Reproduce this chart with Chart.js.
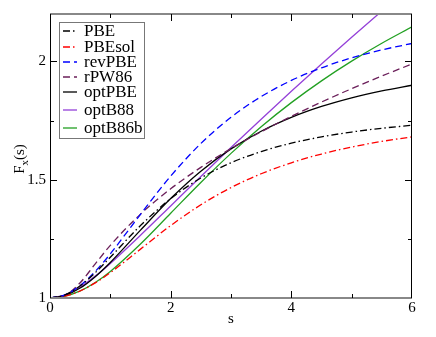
<!DOCTYPE html>
<html lang="en">
<head>
  <meta charset="utf-8">
  <script src="https://cdn.jsdelivr.net/npm/chart.js"></script>
  <style>
    body { margin: 0; background: #fff; }
    canvas { display: block; }
  </style>
</head>
<body>
  <canvas id="fxChart" width="436" height="337"></canvas>

  <script>
    // reduced gradient s
    var sValues = [0, 0.25, 0.5, 0.75, 1, 1.5, 2, 2.5, 3, 3.5, 4, 4.5, 5, 5.5, 6];

    // enhancement factor Fx(s) for each functional
    var pbe     = [1, 1.0135, 1.0514, 1.1070, 1.1724, 1.3060, 1.4197, 1.5069, 1.5714, 1.6189, 1.6542, 1.6809, 1.7013, 1.7172, 1.7298];
    var pbesol  = [1, 1.0076, 1.0297, 1.0639, 1.1070, 1.2065, 1.3059, 1.3937, 1.4665, 1.5249, 1.5714, 1.6084, 1.6378, 1.6616, 1.6808];
    var revpbe  = [1, 1.0136, 1.0526, 1.1123, 1.1866, 1.3536, 1.5149, 1.6527, 1.7637, 1.8510, 1.9192, 1.9726, 2.0148, 2.0484, 2.0755];
    var rpw86   = [1, 1.0113, 1.0644, 1.1443, 1.2225, 1.3545, 1.4614, 1.5519, 1.6312, 1.7025, 1.7675, 1.8279, 1.8845, 1.9380, 1.9888];
    var optpbe  = [1, 1.0109, 1.0421, 1.0902, 1.1503, 1.2868, 1.4204, 1.5360, 1.6300, 1.7046, 1.7632, 1.8094, 1.8460, 1.8753, 1.8989];
    var optb88  = [1, 1.0129, 1.0462, 1.0924, 1.1462, 1.2651, 1.3891, 1.5132, 1.6356, 1.7556, 1.8732, 1.9885, 2.1015, 2.2125, 2.3217];
    var optb86b = [1, 1.0077, 1.0301, 1.0658, 1.1124, 1.2282, 1.3581, 1.4882, 1.6110, 1.7236, 1.8255, 1.9175, 2.0007, 2.0763, 2.1456];

    var seriesNames = ['PBE', 'PBEsol', 'revPBE', 'rPW86', 'optPBE', 'optB88', 'optB86b'];
    var xTicks = [0, 2, 4, 6];
    var yTicks = [1, 1.5, 2];

    var FONT = '"Liberation Serif", "DejaVu Serif", serif';
    // vertical centre of each legend row (px)
    var legendRows = [31, 47, 62, 77, 92, 110, 128];

    function toPoints(arr) {
      return arr.map(function (v, i) { return { x: sValues[i], y: v }; });
    }

    function makeSet(label, arr, color, dash) {
      return {
        label: label,
        data: toPoints(arr),
        borderColor: color,
        borderWidth: 1.3,
        borderDash: dash,
        pointRadius: 0,
        fill: false,
        cubicInterpolationMode: 'monotone'
      };
    }

    var datasets = [
      makeSet(seriesNames[0], pbe, '#000000', [7, 3, 1.5, 3]),
      makeSet(seriesNames[1], pbesol, '#ff0000', [7, 3, 1.5, 3]),
      makeSet(seriesNames[2], revpbe, '#0000ff', [7, 4]),
      makeSet(seriesNames[3], rpw86, '#6b1f5a', [7, 4]),
      makeSet(seriesNames[4], optpbe, '#000000', []),
      makeSet(seriesNames[5], optb88, '#9440d8', []),
      makeSet(seriesNames[6], optb86b, '#22a022', [])
    ];

    // frame with inward ticks, axis titles and legend box
    var decorations = {
      id: 'decorations',
      afterDraw: function (chart) {
        var ctx = chart.ctx;
        var a = chart.chartArea;
        var x = chart.scales.x, y = chart.scales.y;
        ctx.save();

        // frame
        ctx.strokeStyle = '#888';
        ctx.lineWidth = 2;
        ctx.beginPath();
        ctx.moveTo(a.left, a.top); ctx.lineTo(a.right, a.top);
        ctx.moveTo(a.left, a.bottom); ctx.lineTo(a.right, a.bottom);
        ctx.stroke();
        ctx.strokeStyle = '#000';
        ctx.lineWidth = 1;
        ctx.beginPath();
        ctx.moveTo(Math.round(a.left) + 0.5, a.top); ctx.lineTo(Math.round(a.left) + 0.5, a.bottom);
        ctx.moveTo(Math.round(a.right) - 0.5, a.top); ctx.lineTo(Math.round(a.right) - 0.5, a.bottom);
        ctx.stroke();

        // ticks pointing in, on all four sides
        ctx.beginPath();
        for (var s = 1; s < 6; s++) {
          var px = Math.round(x.getPixelForValue(s)) + 0.5;
          var len = (s % 2 === 0) ? 7 : 4;
          ctx.moveTo(px, a.bottom); ctx.lineTo(px, a.bottom - len);
          ctx.moveTo(px, a.top); ctx.lineTo(px, a.top + len);
        }
        for (var k = 1; k <= 4; k++) {
          var v = 1 + k * 0.25;
          var py = Math.round(y.getPixelForValue(v)) + 0.5;
          var ylen = (k % 2 === 0) ? 7 : 4;
          ctx.moveTo(a.left, py); ctx.lineTo(a.left + ylen, py);
          ctx.moveTo(a.right, py); ctx.lineTo(a.right - ylen, py);
        }
        ctx.stroke();

        // axis titles
        ctx.fillStyle = '#000';
        ctx.font = '15px ' + FONT;
        ctx.textAlign = 'center';
        ctx.textBaseline = 'middle';
        ctx.fillText('s', (a.left + a.right) / 2, 319);

        ctx.save();
        ctx.translate(19, 159);
        ctx.rotate(-Math.PI / 2);
        ctx.textAlign = 'left';
        ctx.textBaseline = 'alphabetic';
        var wF = ctx.measureText('F').width;
        ctx.font = '11px ' + FONT;
        var wx = ctx.measureText('x').width;
        ctx.font = '15px ' + FONT;
        var wS = ctx.measureText('(s)').width;
        var start = -(wF + wx + wS) / 2;
        ctx.fillText('F', start, 5);
        ctx.font = '11px ' + FONT;
        ctx.fillText('x', start + wF, 9);
        ctx.font = '15px ' + FONT;
        ctx.fillText('(s)', start + wF + wx, 5);
        ctx.restore();

        // legend
        var bx = 59.5, by = 22.5, bw = 85, bh = 116;
        ctx.fillStyle = '#fff';
        ctx.fillRect(bx, by, bw, bh);
        ctx.strokeStyle = '#777';
        ctx.lineWidth = 1;
        ctx.setLineDash([]);
        ctx.strokeRect(bx, by, bw, bh);
        ctx.font = '17px ' + FONT;
        ctx.textAlign = 'left';
        ctx.textBaseline = 'middle';
        chart.data.datasets.forEach(function (ds, i) {
          var ly = legendRows[i];
          ctx.strokeStyle = ds.borderColor;
          ctx.lineWidth = ds.borderWidth;
          ctx.setLineDash(ds.borderDash);
          ctx.beginPath();
          ctx.moveTo(63, ly); ctx.lineTo(77, ly);
          ctx.stroke();
          ctx.setLineDash([]);
          ctx.fillStyle = '#000';
          ctx.fillText(ds.label, 84, ly + 1);
        });
        ctx.restore();
      }
    };

    var ctx = document.getElementById('fxChart').getContext('2d');
    var fxChart = new Chart(ctx, {
      type: 'line',
      data: { datasets: datasets },
      options: {
        responsive: false,
        animation: false,
        layout: { padding: { top: 14, right: 24, left: 0, bottom: 0 } },
        plugins: {
          legend: { display: false },
          tooltip: { enabled: false }
        },
        scales: {
          x: {
            type: 'linear',
            min: 0,
            max: 6,
            afterBuildTicks: function (scale) {
              scale.ticks = xTicks.map(function (v) { return { value: v }; });
            },
            afterFit: function (scale) { scale.height = 39; },
            grid: { display: false, drawTicks: false },
            border: { display: false },
            ticks: {
              color: '#000',
              padding: 1,
              maxRotation: 0,
              font: { family: FONT, size: 15 },
              callback: function (v) { return String(v); }
            }
          },
          y: {
            min: 1,
            max: 2.2,
            afterBuildTicks: function (scale) {
              scale.ticks = yTicks.map(function (v) { return { value: v }; });
            },
            afterFit: function (scale) { scale.width = 50; },
            grid: { display: false, drawTicks: false },
            border: { display: false },
            ticks: {
              color: '#000',
              padding: 4,
              font: { family: FONT, size: 15 },
              callback: function (v) { return String(v); }
            }
          }
        }
      },
      plugins: [decorations]
    });
  </script>
</body>
</html>
